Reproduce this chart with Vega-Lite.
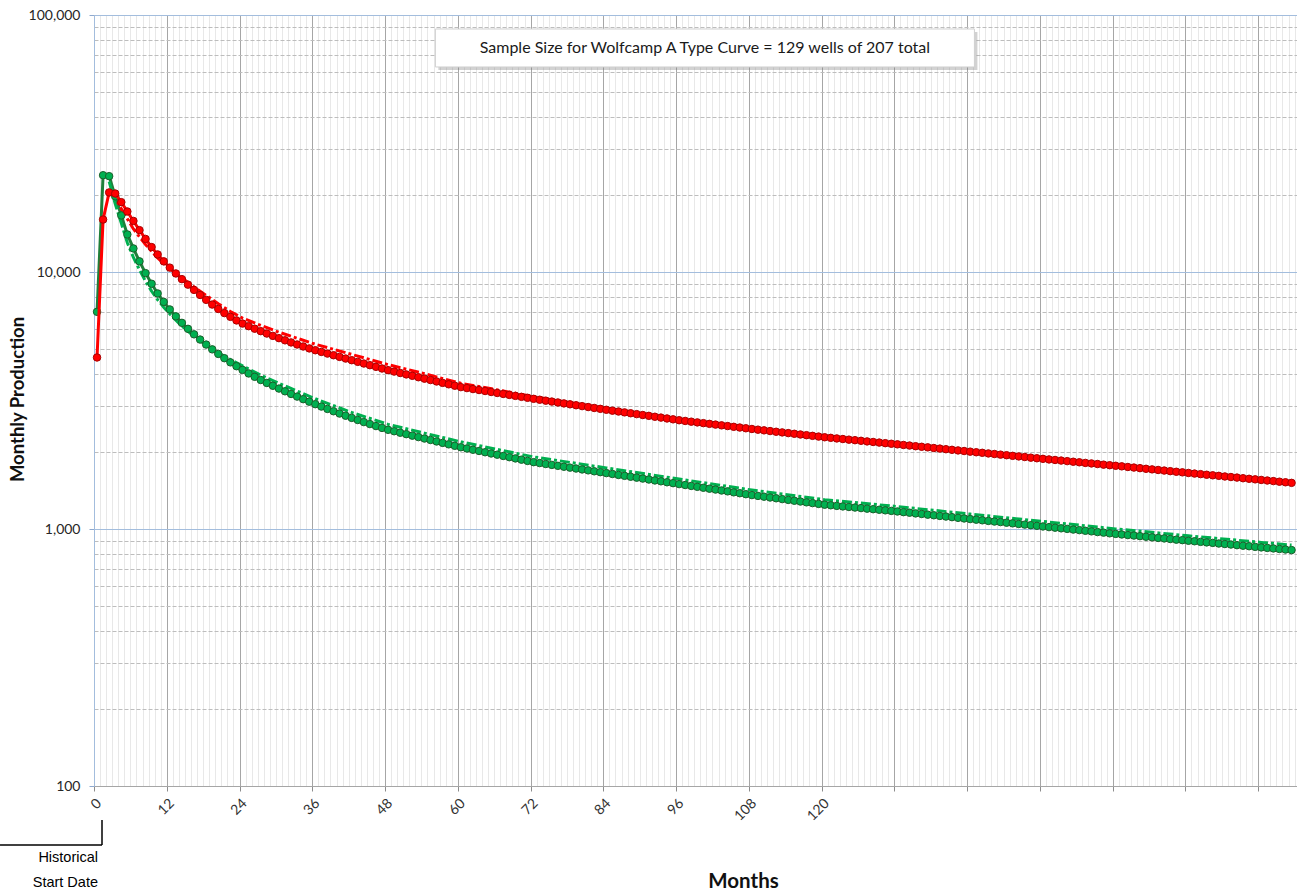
{
  "$schema": "https://vega.github.io/schema/vega-lite/v6.json",
  "width": 1203,
  "height": 771,
  "autosize": "none",
  "padding": {"left": 94, "top": 15, "right": 0, "bottom": 105},
  "background": "white",
  "config": {"view": {"stroke": null}, "font": "Lato"},
  "datasets": {
    "actual": [
      {"month":0.5,"red":4650,"green":7000},{"month":1.5,"red":16000,"green":23800},{"month":2.5,"red":20400,"green":23600},{"month":3.5,"red":20200,"green":19700},{"month":4.5,"red":18700,"green":16600},{"month":5.5,"red":17200,"green":14000},{"month":6.5,"red":15800,"green":12350},{"month":7.5,"red":14550,"green":11000},{"month":8.5,"red":13450,"green":9900},{"month":9.5,"red":12500,"green":9000},
      {"month":10.5,"red":11700,"green":8250},{"month":11.5,"red":11000,"green":7650},{"month":12.5,"red":10400,"green":7150},{"month":13.5,"red":9870,"green":6720},{"month":14.5,"red":9380,"green":6340},{"month":15.5,"red":8930,"green":6010},{"month":16.5,"red":8520,"green":5720},{"month":17.5,"red":8140,"green":5460},{"month":18.5,"red":7790,"green":5220},{"month":19.5,"red":7470,"green":5000},
      {"month":20.5,"red":7180,"green":4800},{"month":21.5,"red":6920,"green":4620},{"month":22.5,"red":6690,"green":4450},{"month":23.5,"red":6480,"green":4300},{"month":24.5,"red":6300,"green":4160},{"month":25.5,"red":6155,"green":4030},{"month":26.5,"red":6017,"green":3910},{"month":27.5,"red":5886,"green":3800},{"month":28.5,"red":5761,"green":3700},{"month":29.5,"red":5642,"green":3608},
      {"month":30.5,"red":5529,"green":3519},{"month":31.5,"red":5422,"green":3434},{"month":32.5,"red":5320,"green":3353},{"month":33.5,"red":5223,"green":3275},{"month":34.5,"red":5131,"green":3200},{"month":35.5,"red":5044,"green":3129},{"month":36.5,"red":4961,"green":3060},{"month":37.5,"red":4887,"green":2995},{"month":38.5,"red":4815,"green":2932},{"month":39.5,"red":4744,"green":2872},
      {"month":40.5,"red":4674,"green":2814},{"month":41.5,"red":4605,"green":2759},{"month":42.5,"red":4537,"green":2706},{"month":43.5,"red":4470,"green":2655},{"month":44.5,"red":4404,"green":2606},{"month":45.5,"red":4339,"green":2560},{"month":46.5,"red":4275,"green":2515},{"month":47.5,"red":4212,"green":2473},{"month":48.5,"red":4150,"green":2432},{"month":49.5,"red":4098,"green":2401},
      {"month":50.5,"red":4046,"green":2369},{"month":51.5,"red":3995,"green":2339},{"month":52.5,"red":3945,"green":2308},{"month":53.5,"red":3895,"green":2278},{"month":54.5,"red":3846,"green":2249},{"month":55.5,"red":3798,"green":2220},{"month":56.5,"red":3750,"green":2191},{"month":57.5,"red":3703,"green":2163},{"month":58.5,"red":3656,"green":2135},{"month":59.5,"red":3610,"green":2107},
      {"month":60.5,"red":3565,"green":2080},{"month":61.5,"red":3534,"green":2057},{"month":62.5,"red":3503,"green":2034},{"month":63.5,"red":3473,"green":2012},{"month":64.5,"red":3443,"green":1989},{"month":65.5,"red":3413,"green":1967},{"month":66.5,"red":3383,"green":1946},{"month":67.5,"red":3354,"green":1924},{"month":68.5,"red":3325,"green":1903},{"month":69.5,"red":3296,"green":1882},
      {"month":70.5,"red":3267,"green":1861},{"month":71.5,"red":3239,"green":1840},{"month":72.5,"red":3210,"green":1820},{"month":73.5,"red":3184,"green":1805},{"month":74.5,"red":3158,"green":1790},{"month":75.5,"red":3132,"green":1776},{"month":76.5,"red":3107,"green":1761},{"month":77.5,"red":3081,"green":1747},{"month":78.5,"red":3056,"green":1733},{"month":79.5,"red":3031,"green":1719},
      {"month":80.5,"red":3007,"green":1705},{"month":81.5,"red":2982,"green":1691},{"month":82.5,"red":2958,"green":1677},{"month":83.5,"red":2934,"green":1664},{"month":84.5,"red":2910,"green":1650},{"month":85.5,"red":2887,"green":1637},{"month":86.5,"red":2865,"green":1623},{"month":87.5,"red":2843,"green":1610},{"month":88.5,"red":2821,"green":1597},{"month":89.5,"red":2799,"green":1584},
      {"month":90.5,"red":2777,"green":1571},{"month":91.5,"red":2756,"green":1558},{"month":92.5,"red":2734,"green":1545},{"month":93.5,"red":2713,"green":1533},{"month":94.5,"red":2692,"green":1520},{"month":95.5,"red":2671,"green":1508},{"month":96.5,"red":2650,"green":1495},{"month":97.5,"red":2633,"green":1483},{"month":98.5,"red":2616,"green":1471},{"month":99.5,"red":2599,"green":1459},
      {"month":100.5,"red":2582,"green":1447},{"month":101.5,"red":2565,"green":1435},{"month":102.5,"red":2548,"green":1424},{"month":103.5,"red":2531,"green":1412},{"month":104.5,"red":2515,"green":1401},{"month":105.5,"red":2498,"green":1389},{"month":106.5,"red":2482,"green":1378},{"month":107.5,"red":2466,"green":1366},{"month":108.5,"red":2450,"green":1355},{"month":109.5,"red":2435,"green":1345},
      {"month":110.5,"red":2420,"green":1336},{"month":111.5,"red":2405,"green":1326},{"month":112.5,"red":2390,"green":1317},{"month":113.5,"red":2376,"green":1307},{"month":114.5,"red":2361,"green":1298},{"month":115.5,"red":2347,"green":1288},{"month":116.5,"red":2332,"green":1279},{"month":117.5,"red":2318,"green":1270},{"month":118.5,"red":2304,"green":1261},{"month":119.5,"red":2289,"green":1252},
      {"month":120.5,"red":2275,"green":1243},{"month":121.5,"red":2263,"green":1237},{"month":122.5,"red":2251,"green":1230},{"month":123.5,"red":2239,"green":1224},{"month":124.5,"red":2227,"green":1218},{"month":125.5,"red":2216,"green":1212},{"month":126.5,"red":2204,"green":1206},{"month":127.5,"red":2192,"green":1200},{"month":128.5,"red":2181,"green":1194},{"month":129.5,"red":2169,"green":1188},
      {"month":130.5,"red":2158,"green":1182},{"month":131.5,"red":2146,"green":1176},{"month":132.5,"red":2135,"green":1170},{"month":133.5,"red":2123,"green":1163},{"month":134.5,"red":2112,"green":1157},{"month":135.5,"red":2100,"green":1150},{"month":136.5,"red":2089,"green":1144},{"month":137.5,"red":2078,"green":1137},{"month":138.5,"red":2066,"green":1131},{"month":139.5,"red":2055,"green":1124},
      {"month":140.5,"red":2044,"green":1118},{"month":141.5,"red":2033,"green":1112},{"month":142.5,"red":2022,"green":1105},{"month":143.5,"red":2011,"green":1099},{"month":144.5,"red":2000,"green":1093},{"month":145.5,"red":1989,"green":1087},{"month":146.5,"red":1979,"green":1081},{"month":147.5,"red":1968,"green":1075},{"month":148.5,"red":1958,"green":1069},{"month":149.5,"red":1947,"green":1064},
      {"month":150.5,"red":1937,"green":1058},{"month":151.5,"red":1926,"green":1052},{"month":152.5,"red":1916,"green":1046},{"month":153.5,"red":1906,"green":1040},{"month":154.5,"red":1895,"green":1035},{"month":155.5,"red":1885,"green":1029},{"month":156.5,"red":1875,"green":1023},{"month":157.5,"red":1865,"green":1017},{"month":158.5,"red":1856,"green":1012},{"month":159.5,"red":1846,"green":1006},
      {"month":160.5,"red":1837,"green":1001},{"month":161.5,"red":1827,"green":995},{"month":162.5,"red":1818,"green":990},{"month":163.5,"red":1808,"green":984},{"month":164.5,"red":1799,"green":979},{"month":165.5,"red":1790,"green":973},{"month":166.5,"red":1780,"green":968},{"month":167.5,"red":1771,"green":962},{"month":168.5,"red":1762,"green":957},{"month":169.5,"red":1753,"green":952},
      {"month":170.5,"red":1743,"green":947},{"month":171.5,"red":1734,"green":943},{"month":172.5,"red":1725,"green":938},{"month":173.5,"red":1715,"green":933},{"month":174.5,"red":1706,"green":928},{"month":175.5,"red":1697,"green":923},{"month":176.5,"red":1688,"green":919},{"month":177.5,"red":1679,"green":914},{"month":178.5,"red":1670,"green":909},{"month":179.5,"red":1661,"green":905},
      {"month":180.5,"red":1652,"green":900},{"month":181.5,"red":1643,"green":896},{"month":182.5,"red":1635,"green":891},{"month":183.5,"red":1626,"green":887},{"month":184.5,"red":1618,"green":883},{"month":185.5,"red":1610,"green":878},{"month":186.5,"red":1601,"green":874},{"month":187.5,"red":1593,"green":870},{"month":188.5,"red":1585,"green":865},{"month":189.5,"red":1576,"green":861},
      {"month":190.5,"red":1568,"green":857},{"month":191.5,"red":1560,"green":852},{"month":192.5,"red":1552,"green":848},{"month":193.5,"red":1544,"green":844},{"month":194.5,"red":1536,"green":840},{"month":195.5,"red":1528,"green":836},{"month":196.5,"red":1520,"green":832},{"month":197.5,"red":1512,"green":828}
    ],
    "fit": [
      {"month":2.5,"red":20400,"green":22500},{"month":3.5,"red":19500,"green":18400},{"month":4.5,"red":17600,"green":15500},{"month":5.5,"red":16100,"green":13000},{"month":6.5,"red":14700,"green":11400},{"month":7.5,"red":13700,"green":10200},{"month":8.5,"red":12800,"green":9200},{"month":9.5,"red":12050,"green":8430},{"month":10.5,"red":11350,"green":7800},{"month":11.5,"red":10800,"green":7290},
      {"month":12.5,"red":10300,"green":6870},{"month":13.5,"red":9870,"green":6500},{"month":14.5,"red":9480,"green":6160},{"month":15.5,"red":9110,"green":5880},{"month":16.5,"red":8750,"green":5630},{"month":17.5,"red":8420,"green":5400},{"month":18.5,"red":8110,"green":5200},{"month":20.5,"red":7520,"green":4850},{"month":22.5,"red":7020,"green":4560},{"month":24.5,"red":6615,"green":4310},
      {"month":27.5,"red":6200,"green":3971},{"month":30.5,"red":5830,"green":3688},{"month":36.5,"red":5235,"green":3213},{"month":42.5,"red":4780,"green":2841},{"month":48.5,"red":4360,"green":2554},{"month":54.5,"red":4020,"green":2361},{"month":60.5,"red":3690,"green":2184},{"month":66.5,"red":3478,"green":2040},{"month":72.5,"red":3275,"green":1908},{"month":84.5,"red":2940,"green":1728},
      {"month":96.5,"red":2665,"green":1565},{"month":108.5,"red":2456,"green":1418},{"month":120.5,"red":2278,"green":1300},{"month":132.5,"red":2137,"green":1223},{"month":144.5,"red":2002,"green":1143},{"month":156.5,"red":1877,"green":1070},{"month":168.5,"red":1764,"green":1001},{"month":180.5,"red":1654,"green":941},{"month":192.5,"red":1554,"green":887},{"month":197.5,"red":1514,"green":866}
    ],
    "box": [{"x1": 56.3, "x2": 145.2, "y1": 88220, "y2": 62770, "xc": 100.75, "yc": 74390, "text": "Sample Size for Wolfcamp A Type Curve = 129 wells of 207 total"}],
    "bracket": [
      {"x1": -15.5, "x2": 1.32, "y1": 58.9, "y2": 58.9},
      {"x1": 1.32, "x2": 1.32, "y1": 58.9, "y2": 73.7}
    ],
    "notes": [
      {"x": 0.66, "y": 52.5, "text": "Historical"},
      {"x": 0.66, "y": 41.9, "text": "Start Date"}
    ]
  },
  "layer": [
    {
      "data": {"name": "actual"},
      "mark": {"type": "line", "color": "#1F7F3A", "strokeWidth": 3},
      "encoding": {
        "x": {
          "field": "month", "type": "quantitative",
          "scale": {"domain": [0, 198.4], "nice": false, "zero": false},
          "axis": {
            "values": [0,1,2,3,4,5,6,7,8,9,10,11,12,13,14,15,16,17,18,19,20,21,22,23,24,25,26,27,28,29,30,31,32,33,34,35,36,37,38,39,40,41,42,43,44,45,46,47,48,49,50,51,52,53,54,55,56,57,58,59,60,61,62,63,64,65,66,67,68,69,70,71,72,73,74,75,76,77,78,79,80,81,82,83,84,85,86,87,88,89,90,91,92,93,94,95,96,97,98,99,100,101,102,103,104,105,106,107,108,109,110,111,112,113,114,115,116,117,118,119,120,121,122,123,124,125,126,127,128,129,130,131,132,133,134,135,136,137,138,139,140,141,142,143,144,145,146,147,148,149,150,151,152,153,154,155,156,157,158,159,160,161,162,163,164,165,166,167,168,169,170,171,172,173,174,175,176,177,178,179,180,181,182,183,184,185,186,187,188,189,190,191,192,193,194,195,196,197,198],
            "tickCount": 1000,
            "title": "Months",
            "titleFont": "Lato", "titleFontSize": 20.5, "titleFontWeight": "bold", "titleColor": "#111111",
            "titleX": 649, "titleY": 101, "titleBaseline": "alphabetic", "titleAlign": "center",
            "labelExpr": "datum.value % 12 === 0 && datum.value <= 120 ? format(datum.value, 'd') : ''",
            "labelAngle": -45, "labelFont": "Lato", "labelFontSize": 14, "labelColor": "#333333",
            "labelPadding": 5, "labelOverlap": false, "labelFlush": false, "labelBound": false,
            "tickSize": 5, "tickColor": "#8C8C8C",
            "tickOpacity": {"condition": {"test": "datum.value % 12 === 0", "value": 1}, "value": 0},
            "domainColor": "#A6A6A6",
            "grid": true,
            "gridColor": {"condition": {"test": "datum.value % 12 === 0", "value": "#A6A6A6"}, "value": "#D0D0D0"},
            "gridDash": {"condition": {"test": "datum.value % 12 === 0", "value": []}, "value": [1, 1]},
            "gridWidth": 1
          }
        },
        "y": {
          "field": "green", "type": "quantitative",
          "scale": {"type": "log", "domain": [100, 100000], "nice": false},
          "axis": {
            "values": [100,200,300,400,500,600,700,800,900,1000,2000,3000,4000,5000,6000,7000,8000,9000,10000,20000,30000,40000,50000,60000,70000,80000,90000,100000],
            "tickCount": 1000,
            "labelExpr": "indexof([100,1000,10000,100000], datum.value) >= 0 ? format(datum.value, ',') : ''",
            "labelFont": "Lato", "labelFontSize": 14, "labelColor": "#262626", "labelPadding": 9, "labelOverlap": false,
            "tickSize": 5, "tickColor": "#8EA9CF",
            "tickOpacity": {"condition": {"test": "indexof([100,1000,10000,100000], datum.value) >= 0", "value": 1}, "value": 0},
            "domainColor": "#A3BDDD",
            "grid": true,
            "gridColor": {"condition": {"test": "indexof([100,1000,10000,100000], datum.value) >= 0", "value": "#A3BDDD"}, "value": "#BDBDBD"},
            "gridDash": {"condition": {"test": "indexof([100,1000,10000,100000], datum.value) >= 0", "value": []}, "value": [4, 2]},
            "gridWidth": 1,
            "title": "Monthly Production",
            "titleFont": "Lato", "titleFontSize": 18.5, "titleFontWeight": "bold", "titleColor": "#111111",
            "titleAngle": -90, "titleX": -77, "titleY": 384, "titleBaseline": "middle", "titleAlign": "center"
          }
        }
      }
    },
    {
      "data": {"name": "fit"},
      "mark": {"type": "line", "color": "#00B050", "strokeWidth": 3, "strokeDash": [10, 3, 3, 3]},
      "encoding": {
        "x": {"field": "month", "type": "quantitative"},
        "y": {"field": "green", "type": "quantitative"}
      }
    },
    {
      "data": {"name": "fit"},
      "mark": {"type": "line", "color": "#FF0000", "strokeWidth": 3, "strokeDash": [10, 3, 3, 3]},
      "encoding": {
        "x": {"field": "month", "type": "quantitative"},
        "y": {"field": "red", "type": "quantitative"}
      }
    },
    {
      "data": {"name": "actual"},
      "mark": {"type": "point", "shape": "circle", "filled": true, "fill": "#00B050", "stroke": "#1A5E2A", "strokeWidth": 1, "size": 56, "opacity": 1},
      "encoding": {
        "x": {"field": "month", "type": "quantitative"},
        "y": {"field": "green", "type": "quantitative"}
      }
    },
    {
      "data": {"name": "actual"},
      "mark": {"type": "line", "color": "#FF0000", "strokeWidth": 3},
      "encoding": {
        "x": {"field": "month", "type": "quantitative"},
        "y": {"field": "red", "type": "quantitative"}
      }
    },
    {
      "data": {"name": "actual"},
      "mark": {"type": "point", "shape": "circle", "filled": true, "fill": "#FF0000", "stroke": "#A80000", "strokeWidth": 1, "size": 56, "opacity": 1},
      "encoding": {
        "x": {"field": "month", "type": "quantitative"},
        "y": {"field": "red", "type": "quantitative"}
      }
    },
    {
      "data": {"name": "box"},
      "mark": {"type": "rect", "fill": "#7F7F7F", "opacity": 0.35, "xOffset": 3, "x2Offset": 3, "yOffset": 3, "y2Offset": 3},
      "encoding": {
        "x": {"field": "x1", "type": "quantitative"},
        "x2": {"field": "x2"},
        "y": {"field": "y1", "type": "quantitative"},
        "y2": {"field": "y2"}
      }
    },
    {
      "data": {"name": "box"},
      "mark": {"type": "rect", "fill": "#FFFFFF", "stroke": "#D0D0D0", "strokeWidth": 1},
      "encoding": {
        "x": {"field": "x1", "type": "quantitative"},
        "x2": {"field": "x2"},
        "y": {"field": "y1", "type": "quantitative"},
        "y2": {"field": "y2"}
      }
    },
    {
      "data": {"name": "box"},
      "mark": {"type": "text", "font": "Lato", "fontSize": 16, "color": "#1A1A1A", "align": "center", "baseline": "middle"},
      "encoding": {
        "x": {"field": "xc", "type": "quantitative"},
        "y": {"field": "yc", "type": "quantitative"},
        "text": {"field": "text"}
      }
    },
    {
      "data": {"name": "bracket"},
      "mark": {"type": "rule", "color": "#000000", "strokeWidth": 1.5},
      "encoding": {
        "x": {"field": "x1", "type": "quantitative"},
        "x2": {"field": "x2"},
        "y": {"field": "y1", "type": "quantitative"},
        "y2": {"field": "y2"}
      }
    },
    {
      "data": {"name": "notes"},
      "mark": {"type": "text", "font": "Liberation Sans", "fontSize": 14.5, "color": "#000000", "align": "right", "baseline": "middle"},
      "encoding": {
        "x": {"field": "x", "type": "quantitative"},
        "y": {"field": "y", "type": "quantitative"},
        "text": {"field": "text"}
      }
    }
  ]
}
